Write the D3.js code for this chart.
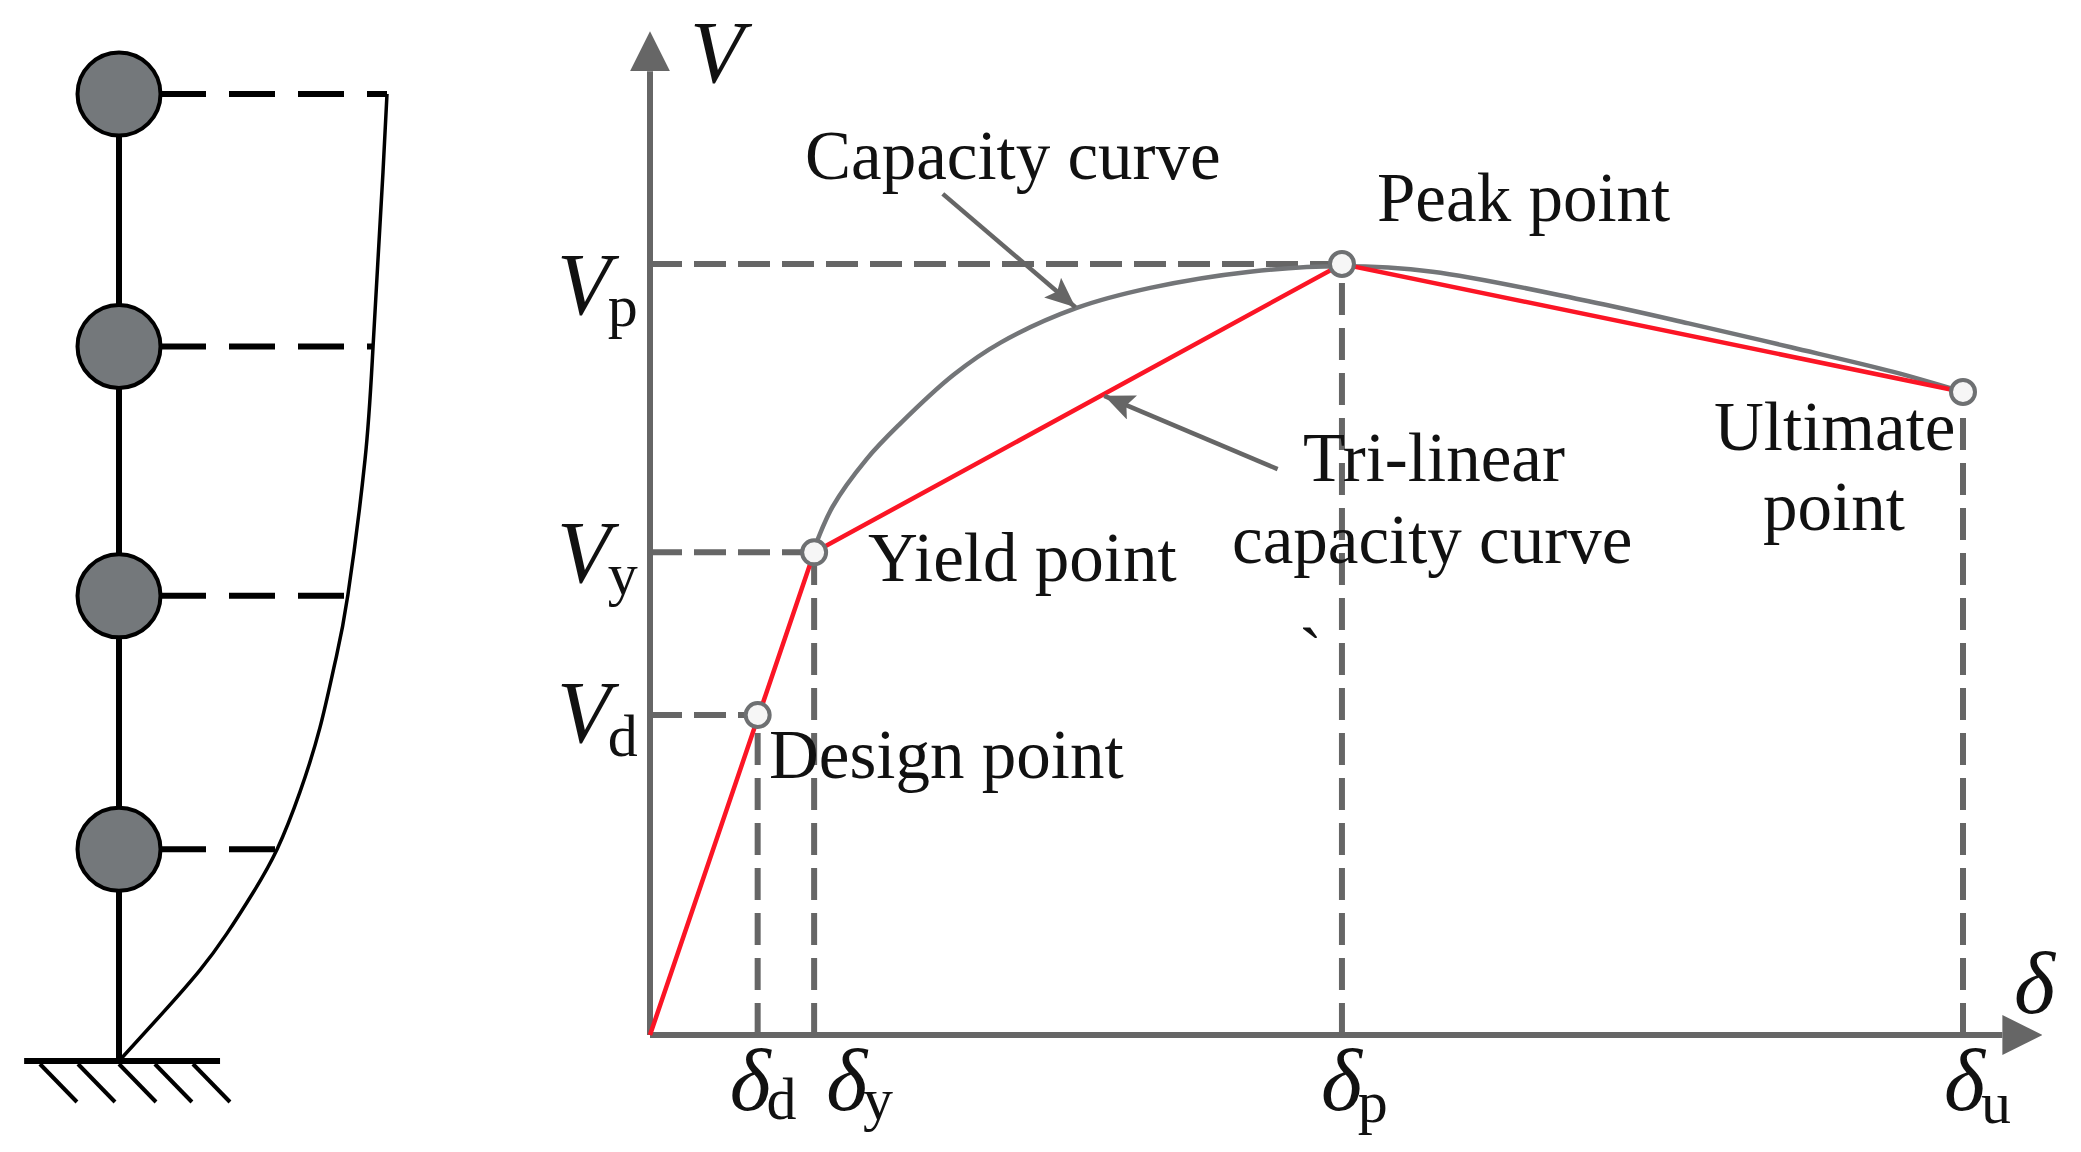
<!DOCTYPE html>
<html>
<head>
<meta charset="utf-8">
<script src="https://cdn.jsdelivr.net/npm/d3@7"></script>
<style>
  html, body { margin: 0; background: #fff; }
  svg { display: block; }
  text { font-family: "Liberation Serif", "Times New Roman", serif; fill: #111; }
</style>
</head>
<body>
<div id="chart"></div>
<script>
// left panel: storey heights and deflected shape (fractions of the roof values)
const floorHeights = [0.219, 0.481, 0.739, 1];
const deflectionD = [0, 0.164, 0.302, 0.403, 0.500, 0.590, 0.675, 0.750, 0.806, 0.854, 0.918, 0.948, 0.985, 1];
const deflectionH = [0, 0.050, 0.094, 0.132, 0.174, 0.219, 0.278, 0.345, 0.412, 0.482, 0.622, 0.739, 0.919, 1];
const hatchAt = [-0.295, -0.153, 0, 0.134, 0.276];
const baseExtent = [-0.354, 0.377];

// right panel: capacity curve from the yield point on, delta over ultimate delta, V over peak V
const curveDelta = [0.124, 0.139, 0.165, 0.190, 0.231, 0.267, 0.325, 0.381, 0.457, 0.527, 0.596, 0.714, 0.791, 0.869, 0.947, 1];
const curveV = [0.626, 0.685, 0.747, 0.792, 0.856, 0.898, 0.943, 0.969, 0.990, 0.997, 0.990, 0.952, 0.923, 0.892, 0.860, 0.834];

// tri-linear line, the design point sits on its first leg
const triDelta = [0, 0.125, 0.527, 1];
const triV = [0, 0.626, 1, 0.834];
const pointDelta = [0.082, 0.125, 0.527, 1];
const pointV = [0.415, 0.626, 1, 0.834];

const vTicks = [0.415, 0.626, 1];
const vTickSubs = ['d', 'y', 'p'];
const deltaTicks = [0.082, 0.125, 0.527, 1];
const deltaTickSubs = ['d', 'y', 'p', 'u'];

const width = 2081, height = 1152;
const grey = '#666', red = '#fb1525';

const svg = d3.select('#chart').append('svg')
  .attr('width', width)
  .attr('height', height)
  .attr('viewBox', `0 0 ${width} ${height}`);

svg.append('defs').call(defs => {
  defs.append('marker')
      .attr('id', 'axis-head')
      .attr('markerUnits', 'userSpaceOnUse')
      .attr('viewBox', '0 -20 40 40')
      .attr('refX', 0).attr('refY', 0)
      .attr('markerWidth', 40).attr('markerHeight', 40)
      .attr('orient', 'auto')
    .append('path')
      .attr('d', 'M0,-20L40,0L0,20Z')
      .attr('fill', grey);
  defs.append('marker')
      .attr('id', 'note-head')
      .attr('markerUnits', 'userSpaceOnUse')
      .attr('viewBox', '0 -13 30 26')
      .attr('refX', 30).attr('refY', 0)
      .attr('markerWidth', 30).attr('markerHeight', 26)
      .attr('orient', 'auto')
    .append('path')
      .attr('d', 'M0,-13L30,0L0,13L6,0Z')
      .attr('fill', grey);
});

// ---- left panel ----
const sx = d3.scaleLinear().domain([0, 1]).range([119, 387]);
const sy = d3.scaleLinear().domain([0, 1]).range([1061, 94]);
const left = svg.append('g');

// storey dashes start from the node centre, the node hides the first bit
left.append('g')
    .attr('stroke', '#000')
    .attr('stroke-width', 6)
    .attr('stroke-dasharray', '46 23')
    .attr('stroke-dashoffset', -41)
  .selectAll('line')
  .data(floorHeights)
  .join('line')
    .attr('x1', sx(0))
    .attr('x2', d => sx(deflectionD[d3.bisectLeft(deflectionH, d)]))
    .attr('y1', sy)
    .attr('y2', sy);

left.append('path')
    .datum(deflectionD.map((d, i) => [d, deflectionH[i]]))
    .attr('fill', 'none')
    .attr('stroke', '#000')
    .attr('stroke-width', 3.5)
    .attr('d', d3.line().x(d => sx(d[0])).y(d => sy(d[1])).curve(d3.curveNatural));

left.append('line')
    .attr('x1', sx(0)).attr('x2', sx(0))
    .attr('y1', sy(0)).attr('y2', sy(1))
    .attr('stroke', '#000')
    .attr('stroke-width', 6);

left.append('line')
    .attr('x1', sx(baseExtent[0])).attr('x2', sx(baseExtent[1]))
    .attr('y1', sy(0)).attr('y2', sy(0))
    .attr('stroke', '#000')
    .attr('stroke-width', 6);

left.append('g')
    .attr('stroke', '#000')
    .attr('stroke-width', 4)
  .selectAll('line')
  .data(hatchAt)
  .join('line')
    .attr('x1', sx)
    .attr('x2', d => sx(d) + 37)
    .attr('y1', sy(0) + 3)
    .attr('y2', sy(0) + 41);

left.append('g')
  .selectAll('circle')
  .data(floorHeights)
  .join('circle')
    .attr('cx', sx(0))
    .attr('cy', sy)
    .attr('r', 41.5)
    .attr('fill', '#74787b')
    .attr('stroke', '#000')
    .attr('stroke-width', 4);

// ---- right panel ----
const x = d3.scaleLinear().domain([0, 1.03]).range([650, 650 + 1.03 * 1313]);
const y = d3.scaleLinear().domain([0, 1.25]).range([1035, 1035 - 1.25 * 771]);
const right = svg.append('g');

const axisStyle = g => g
    .call(g => g.select('.domain')
      .attr('stroke', grey)
      .attr('stroke-width', 6)
      .attr('marker-end', 'url(#axis-head)'))
    .call(g => g.selectAll('.tick text').text(null));

// tick label offsets from the tick, V labels sit at uneven heights in the original
const vLabelDy = [27, 30, 50];
const vSubDy = [14, 12, 12];
const deltaLabelDx = [-28, 12, -21, -19];
const deltaSubDy = [9, 9, 12, 13];

right.append('g')
    .attr('transform', `translate(${x(0)},0)`)
    .call(d3.axisLeft(y).tickValues(vTicks).tickSize(0).tickFormat('').offset(0))
    .call(axisStyle)
    .call(g => g.selectAll('.tick').append('text')
      .attr('x', -93)
      .attr('y', (d, i) => vLabelDy[i])
      .attr('text-anchor', 'start')
      .each(function(d, i) {
        const t = d3.select(this);
        t.append('tspan').attr('font-style', 'italic').attr('font-size', 88).text('V');
        t.append('tspan').attr('font-size', 60).attr('dx', -3).attr('dy', vSubDy[i]).text(vTickSubs[i]);
      }));

right.append('g')
    .attr('transform', `translate(0,${y(0)})`)
    .call(d3.axisBottom(x).tickValues(deltaTicks).tickSize(0).tickFormat('').offset(0))
    .call(axisStyle)
    .call(g => g.selectAll('.tick').append('text')
      .attr('x', (d, i) => deltaLabelDx[i])
      .attr('y', 75)
      .attr('dy', 0)
      .attr('text-anchor', 'start')
      .each(function(d, i) {
        const t = d3.select(this);
        t.append('tspan').attr('font-style', 'italic').attr('font-size', 88).text('δ');
        t.append('tspan').attr('font-size', 60).attr('dx', -4).attr('dy', deltaSubDy[i]).text(deltaTickSubs[i]);
      }));

// dashed drop lines to both axes
const dropLines = right.append('g')
    .attr('stroke', grey)
    .attr('stroke-width', 6)
    .attr('fill', 'none');

dropLines.selectAll('line.h')
  .data(vTicks)
  .join('line')
    .attr('class', 'h')
    .attr('stroke-dasharray', '32 12')
    .attr('x1', x(0))
    .attr('x2', d => x(pointDelta[pointV.indexOf(d)]))
    .attr('y1', y)
    .attr('y2', y);

dropLines.selectAll('line.v')
  .data(pointDelta)
  .join('line')
    .attr('class', 'v')
    .attr('stroke-dasharray', '32 13')
    .attr('x1', x)
    .attr('x2', x)
    .attr('y1', y(0))
    .attr('y2', (d, i) => y(pointV[i]));

right.append('path')
    .datum(curveDelta.map((d, i) => [d, curveV[i]]))
    .attr('fill', 'none')
    .attr('stroke', '#737578')
    .attr('stroke-width', 4.5)
    .attr('d', d3.line().x(d => x(d[0])).y(d => y(d[1])).curve(d3.curveCatmullRom));

right.append('path')
    .datum(triDelta.map((d, i) => [d, triV[i]]))
    .attr('fill', 'none')
    .attr('stroke', red)
    .attr('stroke-width', 4.5)
    .attr('d', d3.line().x(d => x(d[0])).y(d => y(d[1])));

// callout arrows
const arrowFrom = [[0.223, 1.091], [0.478, 0.734]];
const arrowTo = [[0.324, 0.944], [0.346, 0.829]];

right.append('g')
    .attr('stroke', grey)
    .attr('stroke-width', 4.5)
  .selectAll('line')
  .data(arrowFrom)
  .join('line')
    .attr('x1', d => x(d[0]))
    .attr('y1', d => y(d[1]))
    .attr('x2', (d, i) => x(arrowTo[i][0]))
    .attr('y2', (d, i) => y(arrowTo[i][1]))
    .attr('marker-end', 'url(#note-head)');

right.append('g')
  .selectAll('circle')
  .data(pointDelta)
  .join('circle')
    .attr('cx', x)
    .attr('cy', (d, i) => y(pointV[i]))
    .attr('r', 12)
    .attr('fill', '#f6f6f6')
    .attr('stroke', '#6e7072')
    .attr('stroke-width', 4);

// text labels
const noteTexts = ['Capacity curve', 'Peak point', 'Yield point', 'Design point', 'Tri-linear', 'capacity curve', 'Ultimate', 'point', '`'];
const noteX = [805, 1377, 868, 769, 1303, 1232, 1714, 1763, 1299];
const noteY = [179, 221, 581, 778, 481, 563, 450, 530, 676];

right.append('g')
    .attr('font-size', 69)
  .selectAll('text')
  .data(noteTexts)
  .join('text')
    .attr('x', (d, i) => noteX[i])
    .attr('y', (d, i) => noteY[i])
    .text(d => d);

right.append('text')
    .attr('x', 690).attr('y', 82)
    .attr('font-style', 'italic')
    .attr('font-size', 88)
    .text('V');

right.append('text')
    .attr('x', 2014).attr('y', 1013)
    .attr('font-style', 'italic')
    .attr('font-size', 88)
    .text('δ');
</script>
</body>
</html>
